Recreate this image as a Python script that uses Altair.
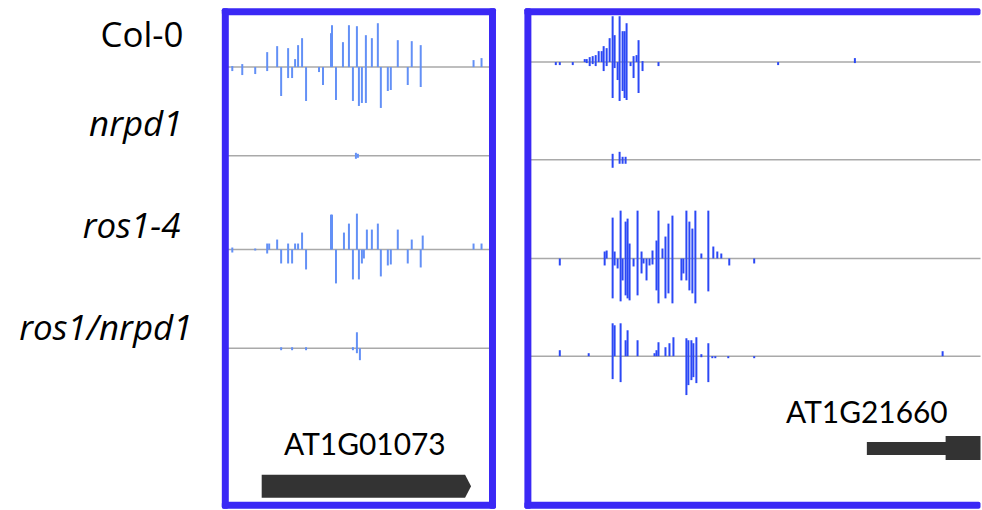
import altair as alt
import pandas as pd

# ---------------- data ----------------
TRACKS = ["Col-0", "nrpd1", "ros1-4", "ros1/nrpd1"]
LABEL_STYLE = ["normal", "italic", "italic", "italic"]
LABEL_Y = [459.5, 370.5, 268.5, 165.5]
LABEL_X = [-42, -43, -45, -33]

LEFT_BASE = [439.5, 350.5, 256.5, 157.5]
RIGHT_BASE = [444.5, 346.5, 247.5, 149.5]

# Left locus (AT1G01073)
L_COL0_POS = [7, 17, 30, 42, 52, 56, 63, 67, 70, 73, 77, 81, 94, 98, 106, 107, 111, 118, 124, 128,
              132, 134, 137, 141, 147, 153, 156, 163, 166, 173, 183, 187, 196, 249, 257]
L_COL0_UP = [1, 3, 0, 15, 21, 0, 19, 0, 8, 22, 29, 0, 0, 0, 34, 42, 0, 25, 42, 0,
             41, 0, 0, 32, 29, 44, 0, 0, 0, 27, 0, 26, 22, 7, 9]
L_COL0_DN = [4, 8, 7, 4, 0, 29, 11, 11, 0, 0, 0, 34, 5, 18, 0, 0, 33, 0, 0, 34,
             0, 39, 36, 36, 0, 0, 41, 24, 23, 0, 18, 0, 20, 0, 0]

L_NRPD1_POS = [131, 133]
L_NRPD1_UP = [3, 2]
L_NRPD1_DN = [3, 2]

L_ROS1_POS = [7, 30, 42, 44, 52, 56, 63, 67, 70, 73, 77, 81, 106, 107, 111, 119, 124, 128, 132, 134,
              137, 139, 142, 147, 153, 156, 163, 166, 173, 183, 187, 196, 198, 249, 257]
L_ROS1_UP = [2, 1, 6, 6, 10, 0, 6, 0, 6, 6, 17, 0, 35, 35, 0, 17, 26, 0, 36, 0,
             0, 0, 20, 20, 26, 0, 0, 0, 20, 0, 10, 0, 14, 6, 6]
L_ROS1_DN = [3, 1, 4, 0, 0, 14, 14, 14, 0, 0, 0, 20, 0, 0, 34, 0, 0, 30, 0, 30,
             14, 9, 0, 0, 0, 27, 16, 15, 0, 14, 0, 18, 0, 0, 0]

L_DBL_POS = [56, 67, 81, 128, 132, 135]
L_DBL_UP = [1, 1, 1, 1, 16, 0]
L_DBL_DN = [2, 2, 2, 2, 5, 12]

# Right locus (AT1G21660)
R_COL0_POS = [28, 32, 45, 57, 59, 62, 65, 68, 71, 74, 76, 79, 82, 85, 87, 90, 92, 95, 97, 99,
              103, 106, 109, 111, 115, 131, 251, 328]
R_COL0_UP = [0, 0, 0, 3, 3, 5, 6, 7, 11, 11, 16, 14, 24, 46, 27, 0, 46, 31, 31, 39,
             0, 6, 7, 22, 1, 0, 0, 4]
R_COL0_DN = [3, 3, 3, 0, 1, 4, 2, 4, 0, 0, 9, 4, 0, 36, 6, 18, 39, 29, 36, 38,
             4, 16, 0, 31, 9, 4, 3, 1]

R_NRPD1_POS = [85, 92, 95, 98]
R_NRPD1_UP = [6, 8, 3, 3]
R_NRPD1_DN = [8, 4, 4, 4]

R_ROS1_POS = [32, 77, 79, 85, 87, 90, 93, 95, 98, 100, 102, 106, 110, 114, 116, 119, 122, 125, 129, 131,
              135, 138, 141, 145, 154, 156, 159, 162, 165, 168, 174, 181, 186, 190, 194, 202, 227]
R_ROS1_UP = [0, 7, 8, 41, 7, 0, 48, 0, 37, 40, 15, 0, 48, 7, 0, 0, 0, 8, 18, 48,
             10, 22, 35, 43, 0, 0, 48, 37, 30, 48, 5, 48, 12, 7, 5, 0, 0]
R_ROS1_DN = [7, 7, 0, 40, 7, 10, 43, 22, 37, 40, 42, 8, 37, 15, 5, 22, 7, 6, 32, 45,
             0, 40, 35, 45, 22, 15, 22, 32, 35, 45, 0, 33, 0, 0, 0, 7, 5]

R_DBL_POS = [32, 61, 85, 87, 93, 98, 100, 110, 127, 129, 131, 138, 142, 146, 159, 161, 164, 166, 169, 174,
             181, 185, 188, 201, 227, 416]
R_DBL_UP = [6, 3, 33, 31, 33, 16, 26, 16, 3, 6, 14, 9, 13, 19, 18, 16, 16, 13, 19, 2,
            13, 0, 0, 0, 0, 5]
R_DBL_DN = [0, 0, 23, 0, 26, 0, 0, 0, 0, 0, 0, 0, 0, 0, 39, 29, 24, 21, 27, 1,
            26, 2, 2, 2, 2, 0]

# gene models
L_GENE_NAME = "AT1G01073"
L_GENE_X = [36.5, 240.5, 246.5]
L_GENE_TOP = [30.5, 30.5, 19]
L_GENE_BOT = [7.5, 7.5, 19]
L_GENE_LABEL = (140, 50.5)

R_GENE_NAME = "AT1G21660"
R_GENE_X1 = [340, 419]
R_GENE_X2 = [420, 454]
R_GENE_TOP = [63.5, 69.5]
R_GENE_BOT = [50.5, 45.5]
R_GENE_LABEL = (340, 82.5)

# ---------------- styles ----------------
BORDER = "#3a28f5"
LEFT_BAR = "#6390f6"
RIGHT_BAR = "#2b48f5"
BASELINE = "#a9a9a9"
GENE = "#333333"
FONT = "Lato"
LABEL_FONT = "Open Sans"
H = 495
WL = 268
WR = 454
BW = 3.5


def bar_frame(tracks, bases):
    rows = []
    for name, (pos, up, dn), base in zip(TRACKS, tracks, bases):
        for p, u, d in zip(pos, up, dn):
            rows.append({"track": name, "pos": p, "top": base + u, "bot": base - d})
    return pd.DataFrame(rows)


def panel(tracks, bases, width, bar_color, xdom, right_border):
    xs = alt.Scale(domain=xdom, nice=False, zero=False)
    ys = alt.Scale(domain=[0, H], nice=False, zero=False)
    bars = bar_frame(tracks, bases)
    base_df = pd.DataFrame({"track": TRACKS, "base": bases})

    baseline = alt.Chart(base_df).mark_rule(color=BASELINE, strokeWidth=1.5).encode(
        x=alt.value(0), x2=alt.value(width),
        y=alt.Y("base:Q", scale=ys, axis=None))
    rules = alt.Chart(bars).mark_rule(color=bar_color, strokeWidth=2).encode(
        x=alt.X("pos:Q", scale=xs, axis=None),
        y=alt.Y("top:Q", scale=ys, axis=None),
        y2="bot:Q")

    edges = [
        dict(x=-BW, x2=width + (BW if right_border else 0), y=-BW, y2=BW),
        dict(x=-BW, x2=width + (BW if right_border else 0), y=H - BW, y2=H + BW),
        dict(x=-BW, x2=BW, y=-BW, y2=H + BW),
    ]
    if right_border:
        edges.append(dict(x=width - BW, x2=width + BW, y=-BW, y2=H + BW))
    frame = []
    for e in edges:
        frame.append(alt.Chart(base_df.head(1)).mark_rect(color=BORDER, cornerRadius=2).encode(
            x=alt.value(e["x"]), x2=alt.value(e["x2"]), y=alt.value(e["y"]), y2=alt.value(e["y2"])))
    return [baseline, rules] + frame, xs, ys


left_tracks = [(L_COL0_POS, L_COL0_UP, L_COL0_DN), (L_NRPD1_POS, L_NRPD1_UP, L_NRPD1_DN),
               (L_ROS1_POS, L_ROS1_UP, L_ROS1_DN), (L_DBL_POS, L_DBL_UP, L_DBL_DN)]
right_tracks = [(R_COL0_POS, R_COL0_UP, R_COL0_DN), (R_NRPD1_POS, R_NRPD1_UP, R_NRPD1_DN),
                (R_ROS1_POS, R_ROS1_UP, R_ROS1_DN), (R_DBL_POS, R_DBL_UP, R_DBL_DN)]

L_layers, lxs, lys = panel(left_tracks, LEFT_BASE, WL, LEFT_BAR, [0, WL], True)
R_layers, rxs, rys = panel(right_tracks, RIGHT_BASE, WR, RIGHT_BAR, [0, WR], False)

# track labels (left of first panel)
lab = pd.DataFrame({"label": TRACKS, "style": LABEL_STYLE, "x": LABEL_X, "y": LABEL_Y})
lab_normal = alt.Chart(lab).transform_filter("datum.style == 'normal'").mark_text(
    font=LABEL_FONT, fontSize=35, align="right", baseline="alphabetic", color="black").encode(
    x=alt.X("x:Q", scale=lxs, axis=None), y=alt.Y("y:Q", scale=lys, axis=None), text="label:N")
lab_italic = alt.Chart(lab).transform_filter("datum.style == 'italic'").mark_text(
    font=LABEL_FONT, fontSize=35, fontStyle="italic", align="right", baseline="alphabetic", color="black").encode(
    x=alt.X("x:Q", scale=lxs, axis=None), y=alt.Y("y:Q", scale=lys, axis=None), text="label:N")

# left gene model
lg = pd.DataFrame({"x": L_GENE_X, "top": L_GENE_TOP, "bot": L_GENE_BOT})
l_gene = alt.Chart(lg).mark_area(color=GENE, orient="vertical").encode(
    x=alt.X("x:Q", scale=lxs, axis=None), y=alt.Y("top:Q", scale=lys, axis=None), y2="bot:Q")
l_gene_lab = alt.Chart(pd.DataFrame({"t": [L_GENE_NAME], "x": [L_GENE_LABEL[0]], "y": [L_GENE_LABEL[1]]})).mark_text(
    font=FONT, fontSize=30, align="center", baseline="alphabetic", color="black").encode(
    x=alt.X("x:Q", scale=lxs, axis=None), y=alt.Y("y:Q", scale=lys, axis=None), text="t:N")

# right gene model
rg = pd.DataFrame({"x1": R_GENE_X1, "x2": R_GENE_X2, "top": R_GENE_TOP, "bot": R_GENE_BOT})
r_gene = alt.Chart(rg).mark_rect(color=GENE).encode(
    x=alt.X("x1:Q", scale=rxs, axis=None), x2="x2:Q",
    y=alt.Y("top:Q", scale=rys, axis=None), y2="bot:Q")
r_gene_lab = alt.Chart(pd.DataFrame({"t": [R_GENE_NAME], "x": [R_GENE_LABEL[0]], "y": [R_GENE_LABEL[1]]})).mark_text(
    font=FONT, fontSize=30, align="center", baseline="alphabetic", color="black").encode(
    x=alt.X("x:Q", scale=rxs, axis=None), y=alt.Y("y:Q", scale=rys, axis=None), text="t:N")

# invisible anchors fixing the page bounds
anchor_df = pd.DataFrame({"a": [0]})
l_anchor = alt.Chart(anchor_df).mark_rect(opacity=0).encode(
    x=alt.value(-225.5), x2=alt.value(-225), y=alt.value(-10.5), y2=alt.value(H + 4.5))
r_anchor = alt.Chart(anchor_df).mark_rect(opacity=0).encode(
    x=alt.value(-BW), x2=alt.value(0), y=alt.value(-10.5), y2=alt.value(H + 4.5))

left = alt.layer(l_anchor, *L_layers, lab_normal, lab_italic, l_gene, l_gene_lab).properties(width=WL, height=H)
right = alt.layer(r_anchor, *R_layers, r_gene, r_gene_lab).properties(width=WR, height=H)

chart = alt.hconcat(left, right, spacing=27.5).properties(padding=0).configure_view(stroke=None)

chart.save("out.html", embed_options={"renderer": "svg", "actions": False})
